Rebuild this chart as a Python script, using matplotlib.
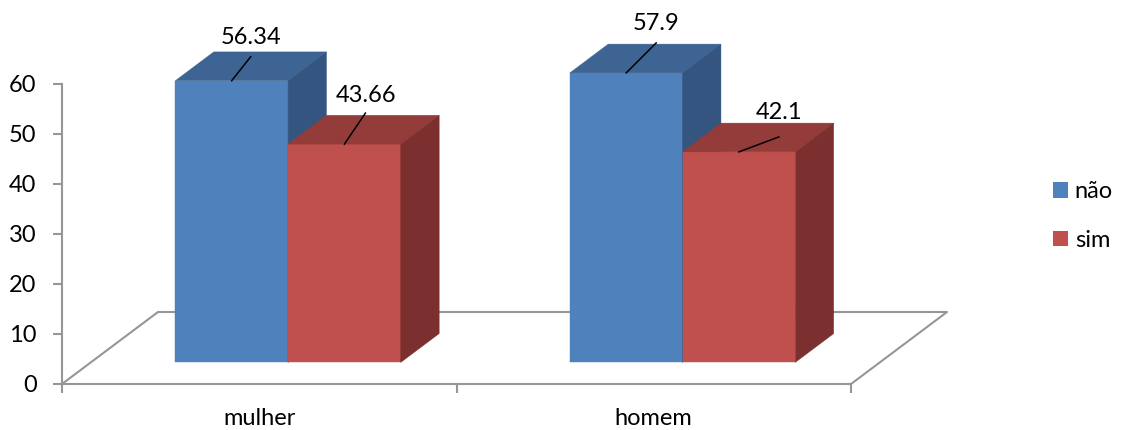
""" 3D style clustered bars: não / sim by sex """

import matplotlib.pyplot as plt
from matplotlib.patches import Polygon, Patch

categories = ['mulher', 'homem']
series_names = ['não', 'sim']
nao = [56.34, 57.9]
sim = [43.66, 42.1]
y_ticks = [0, 10, 20, 30, 40, 50, 60]

# front, top, side shades for each series
shades = [('#4F81BD', '#3D6493', '#34557F'),
          ('#C0504D', '#933C3A', '#7B2F2E')]
grid_gray = '#969696'

# screen pixels -> data units of the value axes
PX_X = 2 / 789
PX_Y = 60 / 300
DEPTH_X = 96 * PX_X
DEPTH_Y = 72 * PX_Y
F_FRONT, F_BACK = 0.3, 0.7
BAR_W = 1 / 3.5   # gap width 150%
FS = 17

# leader end and text centre, offset in pixels from the bar's front-top centre
leader_px = [[(19, -24), (21, -31)], [(30, -30), (40, -15)]]
text_px = [[(19, -43), (21.5, -49)], [(30, -49), (40.5, -39)]]


def main():
    plt.rcParams['font.family'] = ['Lato', 'DejaVu Sans']
    fig = plt.figure(figsize=(11.24, 4.30), dpi=100)
    ax = fig.add_axes([62 / 1124, 46 / 430, 789 / 1124, 300 / 430])
    ax.set_xlim(0, 2)
    ax.set_ylim(0, 60)

    # floor outline (front edge is the x axis)
    ax.plot([0, DEPTH_X, 2 + DEPTH_X, 2], [0, DEPTH_Y, DEPTH_Y, 0],
            color=grid_gray, lw=1.5, clip_on=False, zorder=1)

    ddx = (F_BACK - F_FRONT) * DEPTH_X
    ddy = (F_BACK - F_FRONT) * DEPTH_Y
    values = [nao, sim]
    for i, cat in enumerate(categories):
        for j, vals in enumerate(values):
            v = vals[i]
            x0 = i + 0.5 - BAR_W + j * BAR_W + F_FRONT * DEPTH_X
            x1 = x0 + BAR_W
            y0 = F_FRONT * DEPTH_Y
            y1 = y0 + v
            front, top, side = shades[j]
            faces = [
                ([(x0, y0), (x1, y0), (x1, y1), (x0, y1)], front),
                ([(x0, y1), (x1, y1), (x1 + ddx, y1 + ddy), (x0 + ddx, y1 + ddy)], top),
                ([(x1, y0), (x1 + ddx, y0 + ddy), (x1 + ddx, y1 + ddy), (x1, y1)], side),
            ]
            for pts, c in faces:
                ax.add_patch(Polygon(pts, closed=True, facecolor=c, edgecolor=c,
                                     lw=0.3, clip_on=False, zorder=2))

            xc = (x0 + x1) / 2
            lx, ly = leader_px[i][j]
            tx, ty = text_px[i][j]
            ax.plot([xc, xc + lx * PX_X], [y1, y1 - ly * PX_Y], color='black',
                    lw=1.1, clip_on=False, zorder=3)
            ax.text(xc + tx * PX_X, y1 - ty * PX_Y, f'{v:g}', ha='center',
                    va='center', fontsize=FS, zorder=4)

    for s in ['top', 'right']:
        ax.spines[s].set_visible(False)
    for s in ['left', 'bottom']:
        ax.spines[s].set_color(grid_gray)
        ax.spines[s].set_linewidth(1.5)

    ax.set_yticks(y_ticks)
    ax.tick_params(axis='y', length=6.3, width=1.5, color=grid_gray,
                   labelsize=FS, pad=12)
    ax.set_xticks([0, 1, 2])
    ax.set_xticklabels([])
    ax.set_xticks([0.5, 1.5], minor=True)
    ax.set_xticklabels(categories, minor=True)
    ax.tick_params(axis='x', which='major', length=6.5, width=1.5, color=grid_gray)
    ax.tick_params(axis='x', which='minor', length=0, labelsize=FS, pad=17)

    handles = [Patch(facecolor=shades[k][0]) for k in range(2)]
    fig.legend(handles, series_names, loc='center left', frameon=False,
               bbox_to_anchor=(1053 / 1124, 1 - 216 / 430), fontsize=FS,
               borderaxespad=0, borderpad=0,
               handlelength=0.62, handleheight=0.62, handletextpad=0.3,
               labelspacing=1.15)

    fig.savefig('out.png', dpi=100)


if __name__ == '__main__':
    main()
